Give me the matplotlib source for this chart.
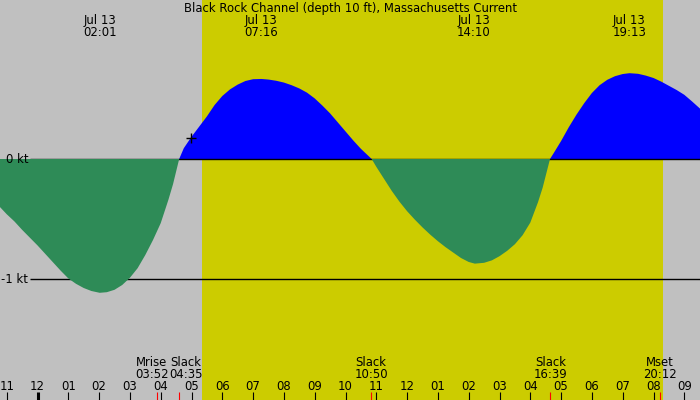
import matplotlib
matplotlib.use('Agg')
import matplotlib.pyplot as plt
import numpy as np

# current prediction, hours from midnight Jul 13 -> knots
hours = [-1.22, -1.0, -0.75, -0.5, -0.25, 0.0, 0.25, 0.5, 0.75, 1.0, 1.25, 1.5, 1.75, 2.02,
         2.25, 2.5, 2.75, 3.0, 3.25, 3.5, 3.75, 4.0, 4.25, 4.4, 4.6,
         4.75, 5.0, 5.25, 5.5, 5.75, 6.0, 6.25, 6.5, 6.75, 7.0, 7.27, 7.5, 7.75,
         8.0, 8.25, 8.5, 8.75, 9.0, 9.25, 9.5, 9.75, 10.0, 10.25, 10.5, 10.85,
         11.0, 11.25, 11.5, 11.75, 12.0, 12.25, 12.5, 12.75, 13.0, 13.25, 13.5, 13.75, 14.0, 14.2,
         14.5, 14.75, 15.0, 15.25, 15.5, 15.75, 16.0, 16.25, 16.4, 16.64,
         16.75, 17.0, 17.25, 17.5, 17.75, 18.0, 18.25, 18.5, 18.75, 19.0, 19.22,
         19.5, 19.75, 20.0, 20.25, 20.5, 20.75, 21.0, 21.25, 21.51]
knots = [-0.40, -0.46, -0.52, -0.59, -0.655, -0.72, -0.79, -0.86, -0.93, -0.995, -1.04, -1.075, -1.10, -1.115,
         -1.11, -1.09, -1.05, -0.99, -0.91, -0.80, -0.675, -0.535, -0.34, -0.21, 0.0,
         0.09, 0.185, 0.27, 0.355, 0.45, 0.525, 0.58, 0.62, 0.65, 0.665, 0.667, 0.662, 0.652,
         0.637, 0.615, 0.588, 0.553, 0.505, 0.445, 0.38, 0.305, 0.23, 0.155, 0.085, 0.0,
         -0.065, -0.165, -0.265, -0.355, -0.435, -0.505, -0.57, -0.63, -0.685, -0.735, -0.78, -0.825, -0.858, -0.872,
         -0.865, -0.845, -0.81, -0.765, -0.71, -0.635, -0.53, -0.36, -0.24, 0.0,
         0.045, 0.15, 0.265, 0.37, 0.465, 0.55, 0.615, 0.66, 0.69, 0.708, 0.715,
         0.71, 0.695, 0.675, 0.645, 0.61, 0.575, 0.535, 0.48, 0.42]

# max current times (top labels)
max_hours = [2.02, 7.27, 14.17, 19.22]
max_labels = ['02:01', '07:16', '14:10', '19:13']

# slack / moon events (bottom labels)
event_hours = [3.867, 4.583, 10.833, 16.65, 20.2]
event_names = ['Mrise', 'Slack', 'Slack', 'Slack', 'Mset']
event_times = ['03:52', '04:35', '10:50', '16:39', '20:12']

# hour ticks along the bottom
tick_hours = list(range(-1, 22))
tick_labels = ['11', '12', '01', '02', '03', '04', '05', '06', '07', '08', '09', '10',
               '11', '12', '01', '02', '03', '04', '05', '06', '07', '08', '09']

sunrise, sunset = 5.34, 20.31
now_hour, now_knots = 4.98, 0.175

# pixel layout: 30.8 px per hour, midnight at x=37.5, 120 px per knot, 0 kt at y=159
px_hour, x0 = 30.8, 37.5
px_kt, y0 = 120.0, 159.0
fs = 8.4

fig = plt.figure(figsize=(7, 4), dpi=100)
fig.patch.set_facecolor('#c0c0c0')
ax = fig.add_axes([0, 0, 1, 1])
ax.set_axis_off()
ax.set_xlim(-x0 / px_hour, (700 - x0) / px_hour)
ax.set_ylim((y0 - 400) / px_kt, y0 / px_kt)

def fy(py):
    # pixel row -> axes fraction
    return 1 - py / 400.0

ax.axvspan(sunrise, sunset, color='#cccc00', zorder=0, lw=0)

x = np.array(hours)
y = np.array(knots)
ax.fill_between(x, 0, y, where=y >= 0, interpolate=True, color='#0000ff', lw=0, zorder=1)
ax.fill_between(x, 0, y, where=y <= 0, interpolate=True, color='#2e8b57', lw=0, zorder=3)

# reference lines at 0 and -1 kt
x_line = (30 - x0) / px_hour
ax.hlines([0, -1], x_line, ax.get_xlim()[1], color='black', lw=1, zorder=2)
ax.text(28 / 700, fy(163.3), '0 kt', transform=ax.transAxes, ha='right', va='baseline', fontsize=fs)
ax.text(28 / 700, fy(283.3), '-1 kt', transform=ax.transAxes, ha='right', va='baseline', fontsize=fs)

ax.plot([now_hour], [now_knots], marker='+', color='black', ms=7, mew=1, zorder=5)

ax.text(0.5, fy(11.7), 'Black Rock Channel (depth 10 ft), Massachusetts Current',
        transform=ax.transAxes, ha='center', va='baseline', fontsize=fs)

for h, lab in zip(max_hours, max_labels):
    ax.text(h, fy(24), 'Jul 13', transform=ax.get_xaxis_transform(), ha='center', va='baseline', fontsize=fs)
    ax.text(h, fy(35.7), lab, transform=ax.get_xaxis_transform(), ha='center', va='baseline', fontsize=fs)

# Mrise and the first Slack are pushed apart so they don't overlap
nudge = [-5, 7, 0, 0, 0]
for h, name, t, dx in zip(event_hours, event_names, event_times, nudge):
    ax.annotate(name, (h, fy(366.0)), xycoords=ax.get_xaxis_transform(), xytext=(dx * 0.72, 0),
                textcoords='offset points', ha='center', va='baseline', fontsize=fs)
    ax.annotate(t, (h, fy(377.7)), xycoords=ax.get_xaxis_transform(), xytext=(dx * 0.72, 0),
                textcoords='offset points', ha='center', va='baseline', fontsize=fs)

# hour ticks, midnight tick is thicker, events get red ticks
for h, lab in zip(tick_hours, tick_labels):
    ax.vlines(h, 0, 8 / 400, transform=ax.get_xaxis_transform(), color='black',
              lw=2.2 if h == 0 else 0.8, zorder=6)
    ax.text(h, fy(390), lab, transform=ax.get_xaxis_transform(), ha='center', va='baseline', fontsize=fs)
ax.vlines(event_hours, 0, 8 / 400, transform=ax.get_xaxis_transform(), color='red', lw=0.8, zorder=6)

fig.savefig('out.png', dpi=100, facecolor=fig.get_facecolor())
